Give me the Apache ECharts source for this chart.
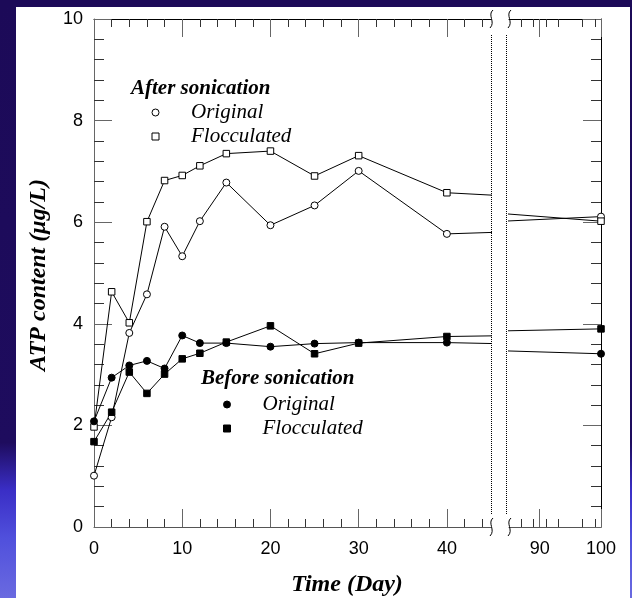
<!DOCTYPE html>
<html>
<head>
<meta charset="utf-8">
<script src="https://cdn.jsdelivr.net/npm/echarts@6/dist/echarts.min.js"></script>
<style>
html, body { margin: 0; padding: 0; }
body {
    width: 632px; height: 598px; overflow: hidden; position: relative;
    background: linear-gradient(to bottom, #1c0a58 0%, #1e0c5e 74%, #3a2ec6 82%, #5050dc 90%, #6a6ae0 100%);
}
#panel { position: absolute; left: 16px; top: 7px; width: 614px; height: 591px; background: #fff; }
#chart { position: absolute; left: 0; top: 0; width: 632px; height: 598px; }
</style>
</head>
<body>
<div id="panel"></div>
<div id="chart"></div>
<script>
// sampling days (the 100-day point sits past the axis break)
const days = [0, 2, 4, 6, 8, 10, 12, 15, 20, 25, 30, 40, 100];
// ATP content (µg/L)
const afterOriginal = [1.01, 2.16, 3.82, 4.58, 5.91, 5.33, 6.02, 6.78, 5.94, 6.33, 7.01, 5.77, 6.11];
const afterFlocculated = [1.97, 4.63, 4.02, 6.01, 6.82, 6.92, 7.11, 7.35, 7.40, 6.91, 7.31, 6.58, 6.02];
const beforeOriginal = [2.08, 2.94, 3.18, 3.27, 3.12, 3.77, 3.62, 3.62, 3.55, 3.61, 3.63, 3.63, 3.41];
const beforeFlocculated = [1.68, 2.26, 3.05, 2.63, 3.01, 3.31, 3.42, 3.64, 3.96, 3.41, 3.62, 3.75, 3.90];
// x ranges on both sides of the break, and major tick labels
const leftRange = [0, 45];
const rightRange = [85, 100];
const leftLabels = [0, 10, 20, 30, 40];
const rightLabels = [90, 100];

const chart = echarts.init(document.getElementById("chart"));

const gridL = {left: 94, top: 19, width: 397, height: 508};
const gridR = {left: 509, top: 19, width: 92, height: 508};

const serif = "'Liberation Serif', 'Times New Roman', serif";
const sans = "'Liberation Sans', Arial, sans-serif";
const squarePath = "path://M0 0H10V10H0Z";

function xAxisFor(gridIndex, range, labels, position) {
    return {
        type: "value",
        gridIndex: gridIndex,
        position: position,
        min: range[0],
        max: range[1],
        interval: 10,
        axisLine: {show: true, lineStyle: {color: position === "top" ? "#000" : "#555", width: 1}},
        axisTick: {show: true, inside: true, length: 18, customValues: labels, lineStyle: {color: "#666"}},
        minorTick: {show: true, splitNumber: 5, length: 8, lineStyle: {color: "#333"}},
        splitLine: {show: false},
        axisLabel: {
            show: position === "bottom",
            customValues: labels,
            margin: 13,
            fontFamily: sans,
            fontSize: 18,
            color: "#000"
        }
    };
}

function yAxisFor(gridIndex, position) {
    return {
        type: "value",
        gridIndex: gridIndex,
        position: position,
        min: 0,
        max: 10,
        interval: 2,
        axisLine: {show: true, lineStyle: {color: position === "left" ? "#666" : "#000", width: 1}},
        axisTick: {show: true, inside: true, length: 18, lineStyle: {color: "#666"}},
        minorTick: {show: true, splitNumber: 5, length: 10, lineStyle: {color: "#333"}},
        splitLine: {show: false},
        axisLabel: {show: position === "left", margin: 11, fontFamily: sans, fontSize: 18, color: "#000"}
    };
}

function pairs(values) {
    return days.map(function (d, i) {
        return [d, values[i]];
    });
}

function makeSeries(name, values, symbol, filled) {
    const out = [];
    for (let g = 0; g < 2; g++) {
        out.push({
            name: name,
            type: "line",
            xAxisIndex: g * 2,
            yAxisIndex: g,
            data: pairs(values),
            symbol: symbol,
            symbolSize: symbol === "circle" ? 7 : 6.5,
            showAllSymbol: true,
            clip: true,
            animation: false,
            lineStyle: {color: "#000", width: 1},
            itemStyle: {color: filled ? "#000" : "#fff", borderColor: "#000", borderWidth: 1},
            emphasis: {disabled: true}
        });
    }
    return out;
}

// icon sits at the left edge; the rich "g" token pushes the label right
function legendFor(left, top, prefix, filled) {
    const style = {color: filled ? "#000" : "#fff", borderColor: "#000", borderWidth: 1};
    return {
        orient: "vertical",
        left: left,
        top: top,
        padding: 0,
        itemWidth: 7,
        itemHeight: 7,
        itemGap: 3,
        selectedMode: false,
        formatter: function (n) {
            return "{g|}" + n.replace(prefix + " ", "");
        },
        textStyle: {
            fontFamily: serif, fontStyle: "italic", fontSize: 21, color: "#000",
            rich: {g: {width: 27}}
        },
        data: [
            {name: prefix + " Original", icon: "circle", itemStyle: style},
            {name: prefix + " Flocculated", icon: squarePath, itemStyle: style}
        ]
    };
}

function squiggle(x, y) {
    return {
        type: "bezierCurve",
        shape: {x1: x + 2, y1: y - 9, x2: x - 1, y2: y + 9, cpx1: x - 4, cpy1: y - 4, cpx2: x + 5, cpy2: y + 3},
        style: {stroke: "#000", lineWidth: 1, fill: null},
        z: 10
    };
}

const gapL = gridL.left + gridL.width + 0.5;
const gapR = gridR.left - 2.5;
const bottom = gridL.top + gridL.height;

const option = {
    animation: false,
    grid: [gridL, gridR],
    xAxis: [
        xAxisFor(0, leftRange, leftLabels, "bottom"),
        xAxisFor(0, leftRange, leftLabels, "top"),
        xAxisFor(1, rightRange, rightLabels, "bottom"),
        xAxisFor(1, rightRange, rightLabels, "top")
    ],
    yAxis: [yAxisFor(0, "left"), yAxisFor(1, "right")],
    legend: [
        legendFor(151.5, 102, "After", false),
        legendFor(223, 394, "Before", true)
    ],
    series: [].concat(
        makeSeries("After Original", afterOriginal, "circle", false),
        makeSeries("After Flocculated", afterFlocculated, "rect", false),
        makeSeries("Before Original", beforeOriginal, "circle", true),
        makeSeries("Before Flocculated", beforeFlocculated, "rect", true)
    ),
    graphic: [
        {
            type: "line",
            shape: {x1: gapL, y1: gridL.top + 16, x2: gapL, y2: bottom - 12},
            style: {stroke: "#000", lineWidth: 1, lineDash: [1, 1]}
        },
        {
            type: "line",
            shape: {x1: gapR, y1: gridL.top + 16, x2: gapR, y2: bottom - 12},
            style: {stroke: "#000", lineWidth: 1, lineDash: [1, 1]}
        },
        squiggle(gapL - 0.5, gridL.top),
        squiggle(gapL - 0.5, bottom),
        squiggle(gridR.left, gridR.top),
        squiggle(gridR.left, bottom),
        {
            type: "text",
            left: 131,
            top: 78,
            style: {text: "After sonication", font: "bold italic 21px " + serif, fill: "#000"}
        },
        {
            type: "text",
            left: 201,
            top: 368,
            style: {text: "Before sonication", font: "bold italic 21px " + serif, fill: "#000"}
        },
        {
            type: "text",
            x: 347,
            y: 585,
            style: {
                text: "Time (Day)", font: "bold italic 24px " + serif, fill: "#000",
                align: "center", verticalAlign: "middle"
            }
        },
        {
            type: "text",
            x: 39,
            y: 275,
            rotation: Math.PI / 2,
            style: {
                text: "ATP content (μg/L)", font: "bold italic 24px " + serif, fill: "#000",
                align: "center", verticalAlign: "middle"
            }
        }
    ]
};

chart.setOption(option);
</script>
</body>
</html>
